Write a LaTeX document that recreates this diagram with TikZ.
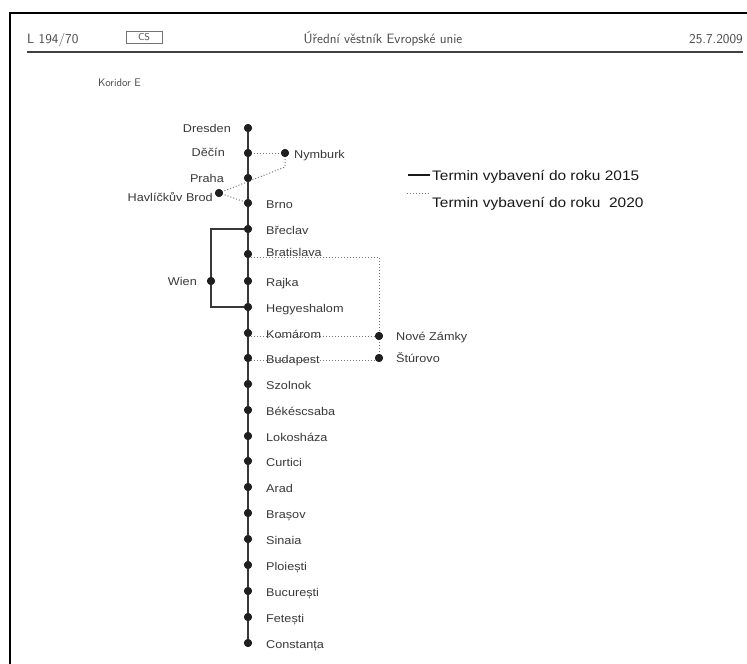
\documentclass[tikz,border=0pt]{standalone}
\usepackage{fontspec}
\usetikzlibrary{calc}
\newfontfamily\stfont[FakeStretch=1.12]{Liberation Sans}
\begin{document}
\begin{tikzpicture}[x=1pt,y=-1pt,
  dot/.style={circle,fill=black!88,inner sep=0pt,minimum size=8pt},
  main/.style={line width=2.2pt,draw=black!78},
  sec/.style={line width=1pt,draw=black!55,dotted},
  lbl/.style={font=\stfont\fontsize{11.3}{13}\selectfont,text=black!78,inner sep=0pt},
  leg/.style={font=\stfont\fontsize{13.8}{16}\selectfont,text=black!90,inner sep=0pt},
  hd/.style={font=\sffamily\fontsize{13.5}{15}\selectfont,text=black!72,inner sep=0pt}]
\useasboundingbox (0,0) rectangle (747,664);
% frame and header
\draw[line width=2.5pt,black] (10,664) -- (10,13) -- (747,13);
\draw[line width=1.6pt,black!75] (27,52) -- (743,52);
\node[hd,anchor=base west] (hl) at (27,43) {L 194/70};
\node[draw=black!55,line width=0.6pt,minimum width=36pt,minimum height=12pt,inner sep=0pt,font=\sffamily\fontsize{10}{11}\selectfont,text=black!72] (cs) at (144,37) {CS};
\node[hd,anchor=base] (ht) at (383,43) {Úřední věstník Evropské unie};
\node[hd,anchor=base east] (hd) at (743,43) {25.7.2009};
\node[font=\sffamily\fontsize{11}{12}\selectfont,text=black!72,inner sep=0pt,anchor=base west] (kor) at (98,86) {Koridor E};
% station dots
\foreach \id/\yy in {dre/128,dec/153,pra/178,brn/203,bre/229,bra/254,raj/281,heg/307,kom/333,bud/358,szo/384,bek/410,lok/436,cur/461,ara/487,bras/513,sin/539,plo/565,buc/591,fet/617,con/643}
  \node[dot] (\id) at (248,\yy) {};
\node[dot] (nym) at (285,153) {};
\node[dot] (hav) at (219,193) {};
\node[dot] (wie) at (211,281) {};
\node[dot] (nov) at (379,336) {};
\node[dot] (stu) at (379,358) {};
% connectors
\draw[main] (dre.center) -- (con.center);
\draw[main] (bre.center) -| (wie.center) |- (heg.center);
\draw[sec] (dec.center) -- (nym.center);
\draw[sec] (nym.center) -- ++(0,14) -- (hav.center);
\draw[sec] (hav.center) -- (brn.center);
\draw[sec] ($(bra.center)+(0,3)$) -| (stu.center);
\draw[sec] ($(kom.center)+(0,3)$) -- (nov.center);
\draw[sec] ($(bud.center)+(0,2)$) -- ($(stu.center)+(0,2)$);
% redraw dots on top
\foreach \id in {dre,dec,pra,brn,bre,bra,raj,heg,kom,bud,szo,bek,lok,cur,ara,bras,sin,plo,buc,fet,con,nym,hav,wie,nov,stu}
  \fill[black!88] (\id.center) circle (4pt);
% labels right
\foreach \id/\t in {brn/Brno,bre/Břeclav,raj/Rajka,heg/Hegyeshalom,kom/Komárom,bud/Budapest,szo/Szolnok,bek/Békéscsaba,lok/Lokosháza,cur/Curtici,ara/Arad,bras/Brașov,sin/Sinaia,plo/Ploiești,buc/București,fet/Fetești,con/Constanța}
  \node[lbl,anchor=base west] (l\id) at ($(\id.center)+(18,5)$) {\t};
\node[lbl,anchor=base west] (lbra) at ($(bra.center)+(18,2)$) {Bratislava};
\node[lbl,anchor=base west] (lnym) at ($(nym.center)+(9,5)$) {Nymburk};
\node[lbl,anchor=base west] (lnov) at ($(nov.center)+(17,4)$) {Nové Zámky};
\node[lbl,anchor=base west] (lstu) at ($(stu.center)+(17,4)$) {Štúrovo};
% labels left
\node[lbl,anchor=base east] (ldre) at (231,132) {Dresden};
\node[lbl,anchor=base east] (ldec) at (225,156) {Děčín};
\node[lbl,anchor=base east] (lpra) at (224,182) {Praha};
\node[lbl,anchor=base east] (lhav) at (213,201) {Havlíčkův Brod};
\node[lbl,anchor=base east] (lwie) at (197,285) {Wien};
% legend
\coordinate (la1) at (408,175);
\coordinate (lb1) at (430,175);
\draw[line width=1.2pt,black!90] (la1) -- (lb1);
\node[leg,anchor=base west] (lt1) at (432,180) {Termin vybavení do roku 2015};
\coordinate (la2) at (407,193);
\coordinate (lb2) at (429,193);
\draw[sec] (la2) -- (lb2);
\node[leg,anchor=base west] (lt2) at (432,207) {Termin vybavení do roku\ \ 2020};
\end{tikzpicture}
\end{document}
